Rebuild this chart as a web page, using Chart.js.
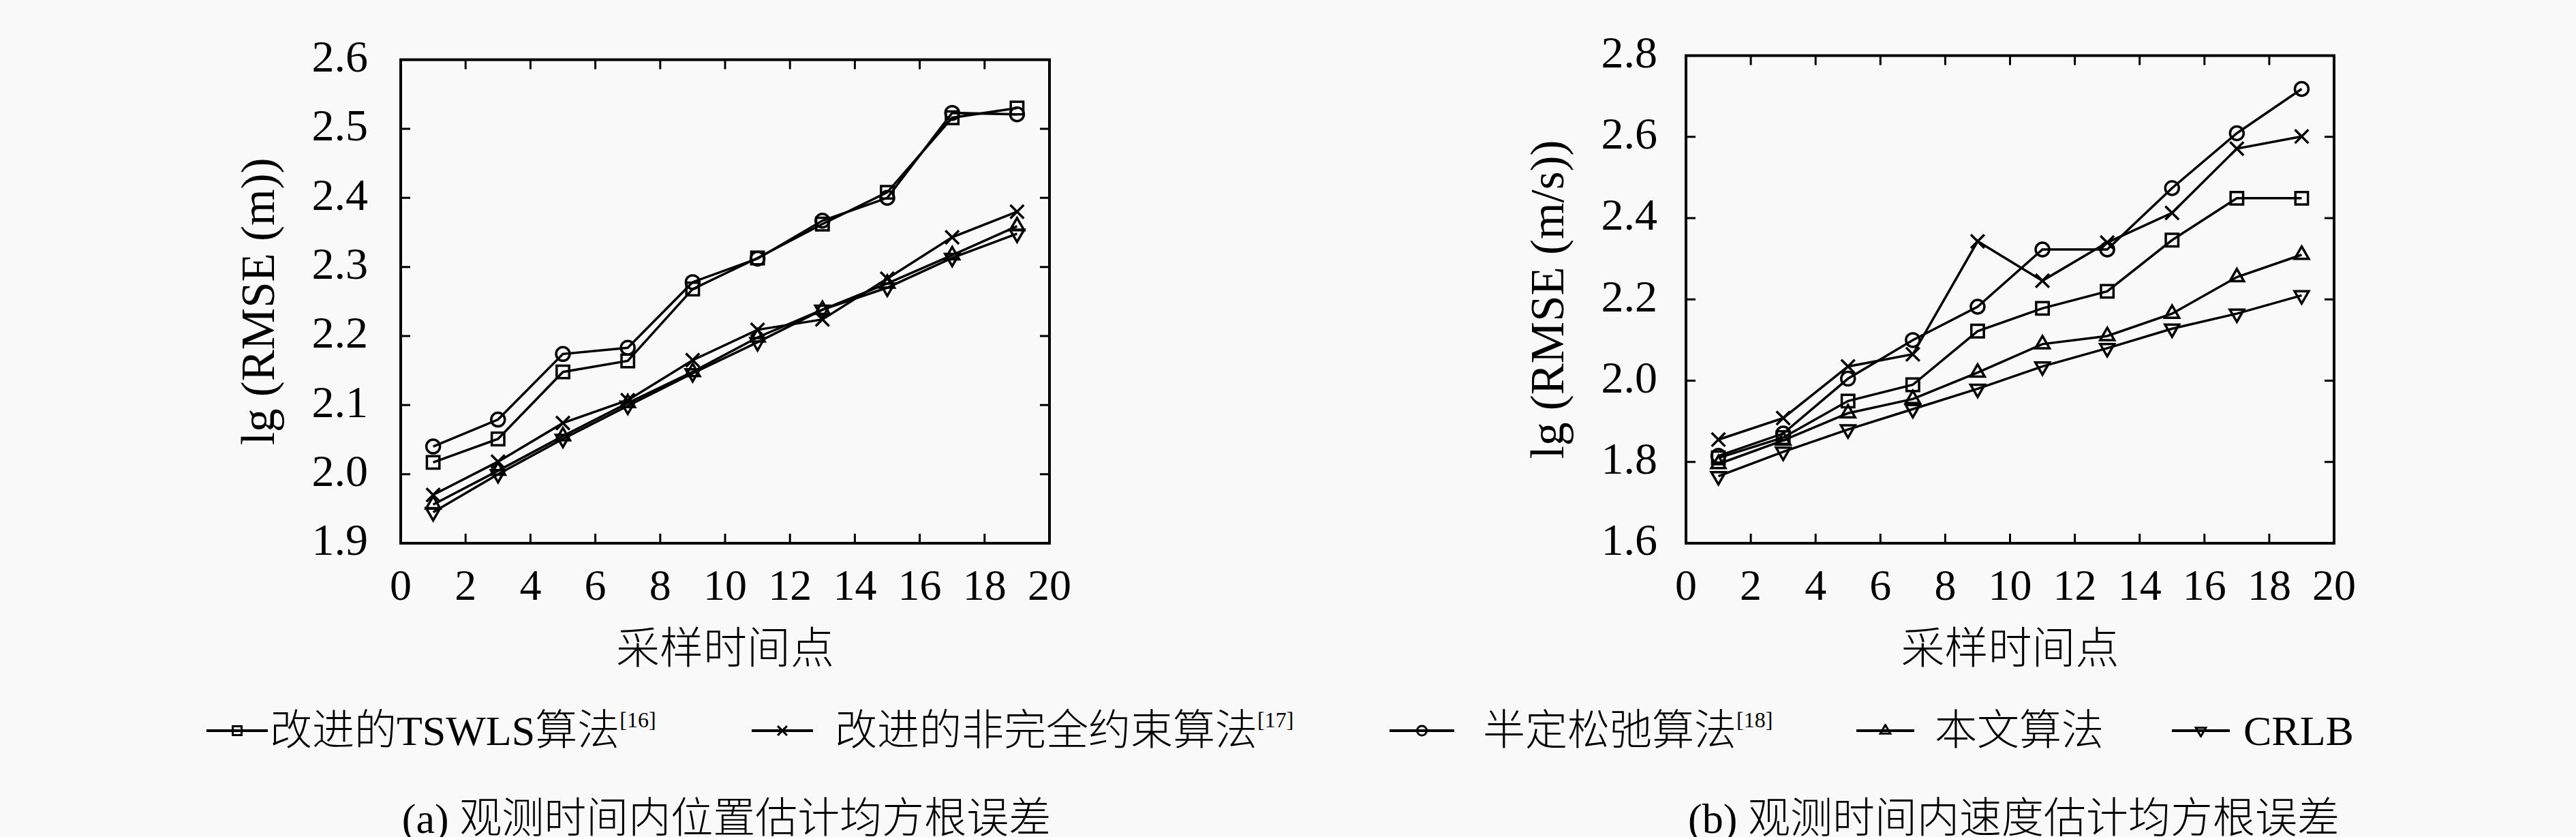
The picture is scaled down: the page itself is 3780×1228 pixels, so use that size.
<!DOCTYPE html>
<html>
<head>
<meta charset="utf-8">
<script src="https://cdn.jsdelivr.net/npm/chart.js@4/dist/chart.umd.min.js"></script>
<style>
body { margin: 0; background: #f9f9f9; width: 3780px; height: 1228px; position: relative; overflow: hidden; }
canvas.plot { position: absolute; top: 0; }
.item { position: absolute; top: 1030px; height: 84px; font: 300 62px "Liberation Serif", "Noto Sans CJK SC"; line-height: 84px; white-space: nowrap; color: #000; }
.item canvas { position: absolute; top: 32px; }
.item span { position: absolute; top: 0; }
sup { font-size: 32px; line-height: 0; vertical-align: 26px; }
.caption { position: absolute; top: 1150px; height: 84px; line-height: 84px; font: 300 62px "Liberation Serif", "Noto Sans CJK SC"; white-space: nowrap; transform: translateX(-50%); color: #000; }
</style>
</head>
<body>
<canvas id="posChart" class="plot" width="1890" height="1000" style="left:0"></canvas>
<canvas id="velChart" class="plot" width="1890" height="1000" style="left:1890px"></canvas>

<div class="item" style="left:303px"><canvas class="key" width="90" height="20"></canvas><span style="left:93px">改进的TSWLS算法<sup>[16]</sup></span></div>
<div class="item" style="left:1103px"><canvas class="key" width="90" height="20"></canvas><span style="left:122px">改进的非完全约束算法<sup>[17]</sup></span></div>
<div class="item" style="left:2039px"><canvas class="key" width="95" height="20"></canvas><span style="left:137px">半定松弛算法<sup>[18]</sup></span></div>
<div class="item" style="left:2724px"><canvas class="key" width="85" height="20"></canvas><span style="left:115px">本文算法</span></div>
<div class="item" style="left:3187px"><canvas class="key" width="85" height="20"></canvas><span style="left:105px">CRLB</span></div>

<div class="caption" style="left:1066px">(a) 观测时间内位置估计均方根误差</div>
<div class="caption" style="left:2955px">(b) 观测时间内速度估计均方根误差</div>

<script>
// 采样时间点
const timePoints = [1, 3, 5, 7, 9, 11, 13, 15, 17, 19];
const seriesNames = ['改进的TSWLS算法', '改进的非完全约束算法', '半定松弛算法', '本文算法', 'CRLB'];

// (a) 位置估计 lg(RMSE)
const posTswls    = [2.017, 2.051, 2.148, 2.164, 2.268, 2.313, 2.362, 2.408, 2.516, 2.530];
const posNonfull  = [1.970, 2.018, 2.074, 2.107, 2.165, 2.209, 2.224, 2.283, 2.343, 2.380];
const posSdr      = [2.040, 2.079, 2.174, 2.183, 2.278, 2.312, 2.367, 2.400, 2.523, 2.521];
const posProposed = [1.956, 2.005, 2.055, 2.103, 2.148, 2.198, 2.238, 2.276, 2.317, 2.359];
const posCrlb     = [1.945, 2.000, 2.051, 2.099, 2.146, 2.191, 2.238, 2.270, 2.313, 2.348];

// (b) 速度估计 lg(RMSE)
const velTswls    = [1.810, 1.860, 1.950, 1.990, 2.122, 2.178, 2.220, 2.346, 2.449, 2.449];
const velNonfull  = [1.855, 1.908, 2.035, 2.065, 2.343, 2.246, 2.340, 2.413, 2.571, 2.601];
const velSdr      = [1.815, 1.870, 2.005, 2.100, 2.182, 2.323, 2.323, 2.474, 2.609, 2.718];
const velProposed = [1.795, 1.853, 1.920, 1.955, 2.020, 2.090, 2.110, 2.165, 2.255, 2.310];
const velCrlb     = [1.765, 1.825, 1.880, 1.930, 1.980, 2.035, 2.080, 2.128, 2.165, 2.210];

const xTicks = { min: 0, max: 20, step: 2 };
const posYTicks = { min: 1.9, max: 2.6, step: 0.1 };
const velYTicks = { min: 1.6, max: 2.8, step: 0.2 };

// marqueurs : carré, croix, cercle, triangle, triangle inversé
const markers = [
    { style: 'rect', radius: 13, rotation: 0 },
    { style: 'crossRot', radius: 14, rotation: 0 },
    { style: 'circle', radius: 10, rotation: 0 },
    { style: 'triangle', radius: 12, rotation: 0 },
    { style: 'triangle', radius: 12, rotation: 180 }
];

const serif = "'Liberation Serif', 'Noto Sans CJK SC'";

// cadre + graduations vers l'intérieur
const frame = {
    id: 'frame',
    afterDraw(chart) {
        const { ctx, chartArea: a, scales: { x, y } } = chart;
        const len = 14;
        ctx.save();
        ctx.strokeStyle = '#000';
        ctx.lineWidth = 3;
        ctx.beginPath();
        x.ticks.forEach(t => {
            const px = x.getPixelForValue(t.value);
            ctx.moveTo(px, a.bottom); ctx.lineTo(px, a.bottom - len);
            ctx.moveTo(px, a.top); ctx.lineTo(px, a.top + len);
        });
        y.ticks.forEach(t => {
            const py = y.getPixelForValue(t.value);
            ctx.moveTo(a.left, py); ctx.lineTo(a.left + len, py);
            ctx.moveTo(a.right, py); ctx.lineTo(a.right - len, py);
        });
        ctx.stroke();
        ctx.lineWidth = 4;
        ctx.strokeRect(a.left, a.top, a.right - a.left, a.bottom - a.top);
        ctx.restore();
    }
};

function makeChart(id, series, yt, yTitle, pad) {
    const datasets = series.map((values, i) => ({
        label: seriesNames[i],
        data: timePoints.map((t, j) => ({ x: t, y: values[j] })),
        borderColor: '#000',
        borderWidth: 3.5,
        pointStyle: markers[i].style,
        pointRadius: markers[i].radius,
        pointRotation: markers[i].rotation,
        pointBorderWidth: 3.5,
        pointBorderColor: '#000',
        pointBackgroundColor: 'rgba(0,0,0,0)',
        tension: 0,
        fill: false
    }));
    return new Chart(document.getElementById(id), {
        type: 'line',
        data: { datasets },
        options: {
            responsive: false,
            animation: false,
            devicePixelRatio: 1,
            layout: { padding: { left: 300, right: pad.right, top: 39, bottom: 0 } },
            plugins: { legend: { display: false }, tooltip: { enabled: false } },
            scales: {
                x: {
                    type: 'linear',
                    min: xTicks.min, max: xTicks.max,
                    grid: { display: false, drawTicks: false },
                    border: { display: false },
                    ticks: { stepSize: xTicks.step, color: '#000', padding: 28, font: { family: serif, size: 64 } },
                    title: { display: true, text: '采样时间点', color: '#000', padding: { top: 0, bottom: 5 }, font: { family: serif, size: 64, weight: 300 } },
                    afterFit: s => { s.height = 203; }
                },
                y: {
                    min: yt.min, max: yt.max,
                    grid: { display: false, drawTicks: false },
                    border: { display: false },
                    ticks: { stepSize: yt.step, color: '#000', padding: pad.tick, font: { family: serif, size: 66 }, callback: v => v.toFixed(1) },
                    title: { display: true, text: yTitle, color: '#000', padding: { top: pad.title, bottom: 0 }, font: { family: serif, size: 69 } },
                    afterFit: s => { s.width = pad.width; }
                }
            }
        },
        plugins: [frame]
    });
}

makeChart('posChart', [posTswls, posNonfull, posSdr, posProposed, posCrlb], posYTicks, 'lg (RMSE (m))',
    { right: 350, width: 288, tick: 48, title: 42 });
makeChart('velChart', [velTswls, velNonfull, velSdr, velProposed, velCrlb], velYTicks, 'lg (RMSE (m/s))',
    { right: 355, width: 284, tick: 42, title: 44 });

// légende commune
document.querySelectorAll('canvas.key').forEach((c, i) => {
    const ctx = c.getContext('2d');
    ctx.strokeStyle = '#000';
    ctx.fillStyle = 'rgba(0,0,0,0)';
    ctx.lineWidth = 4;
    ctx.beginPath();
    ctx.moveTo(0, 10); ctx.lineTo(c.width, 10);
    ctx.stroke();
    ctx.lineWidth = 3;
    Chart.helpers.drawPoint(ctx, {
        pointStyle: markers[i].style,
        rotation: markers[i].rotation,
        radius: markers[i].radius * 0.7,
        borderWidth: 3
    }, c.width / 2, 10);
});
</script>
</body>
</html>
